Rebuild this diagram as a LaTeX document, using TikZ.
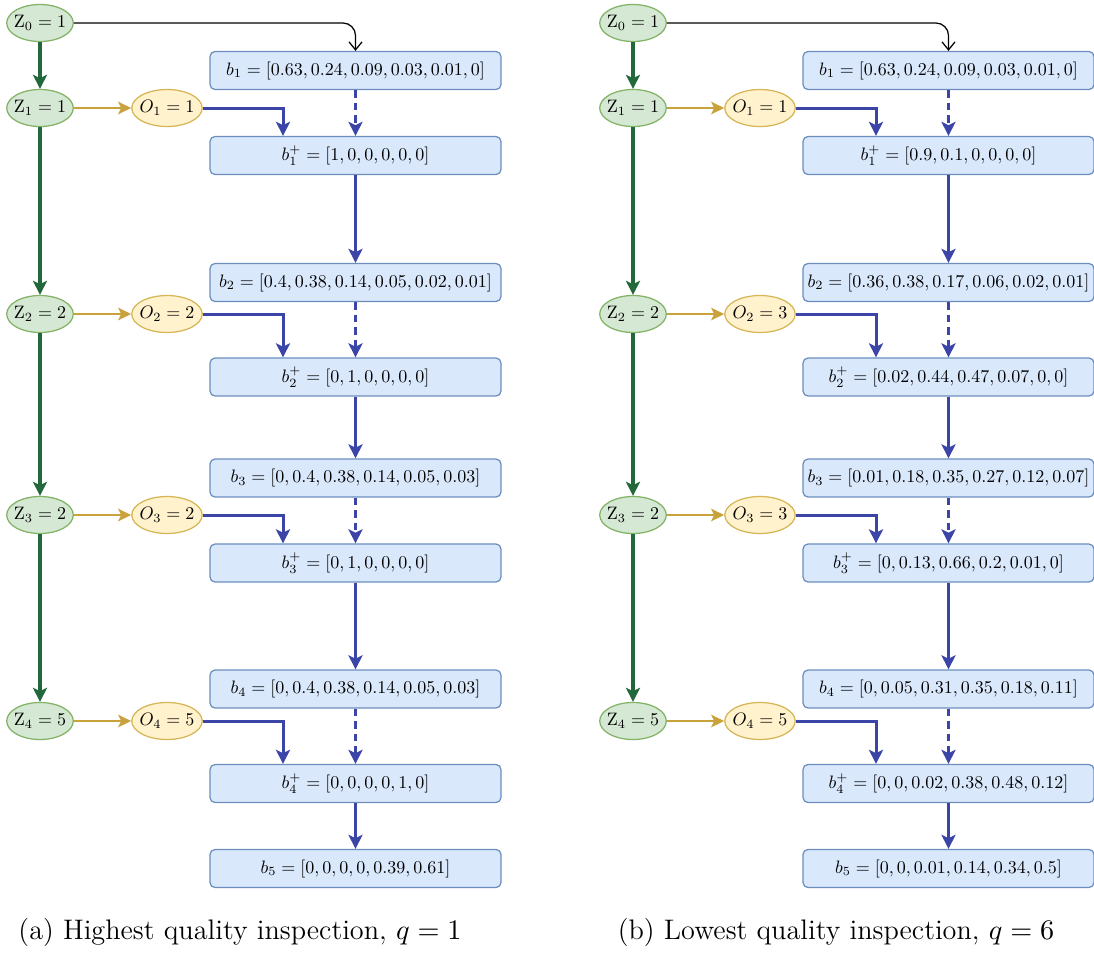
\documentclass[tikz,border=0pt]{standalone}
\usepackage{fix-cm}
\usepackage{graphicx}
\usetikzlibrary{arrows.meta, shapes.geometric}

\definecolor{zfill}{HTML}{D5E8D4}
\definecolor{zdraw}{HTML}{82B366}
\definecolor{ofill}{HTML}{FFF2CC}
\definecolor{odraw}{HTML}{D6B656}
\definecolor{bfill}{HTML}{DAE8FC}
\definecolor{bdraw}{HTML}{6C8EBF}
\definecolor{zline}{HTML}{23683A}
\definecolor{oline}{HTML}{C9A23C}
\definecolor{bline}{HTML}{3B45A8}

% scaled math for the labels inside the nodes
\newcommand{\smath}[1]{\scalebox{0.72}{$#1$}}

\tikzset{
  zstate/.style={ellipse, draw=zdraw, fill=zfill, line width=0.5pt,
    minimum width=26pt, minimum height=14.8pt, inner xsep=-1pt, inner ysep=0pt},
  obs/.style={zstate, draw=odraw, fill=ofill, minimum width=25.6pt},
  belief/.style={rectangle, rounded corners=2pt, draw=bdraw, fill=bfill, line width=0.5pt,
    minimum width=116.4pt, minimum height=15.2pt, inner sep=0pt},
  zarrow/.style={-{Stealth[length=5.6pt, width=5.6pt, inset=1.3pt]}, line width=1.4pt, draw=zline},
  oarrow/.style={-{Stealth[length=5.2pt, width=5pt, inset=1.2pt]}, line width=1.1pt, draw=oline},
  barrow/.style={-{Stealth[length=5.6pt, width=5.6pt, inset=1.3pt]}, line width=1.2pt, draw=bline},
  karrow/.style={-{Straight Barb[length=3.2pt, width=5.2pt]}, line width=0.5pt, draw=black},
  caption/.style={font=\fontsize{11.3}{13.5}\selectfont}
}

\begin{document}
\begin{tikzpicture}[x=0.4pt, y=-0.4pt]
    % 1. Frame of the picture
    \useasboundingbox (0,0) rectangle (1094,955);

    % 2. States Z and observations O, same chain in both panels
    \foreach \p/\dx/\oa/\ob/\oc/\od in {a/0/1/2/2/5, b/593/1/3/3/5} {
        \begin{scope}[shift={(\dx,0)}]
            \foreach \i/\y/\z in {0/23/1, 1/108/1, 2/314/2, 3/515/2, 4/721/5}
                \node[zstate] (\p Z\i) at (40,\y) {\smath{\mathrm{Z}_{\i} = \z}};
            \foreach \i/\y/\o in {1/108/\oa, 2/314/\ob, 3/515/\oc, 4/721/\od}
                \node[obs] (\p O\i) at (167,\y) {\smath{O_{\i} = \o}};
        \end{scope}
    }

    % 3. Beliefs, panel (a)
    \node[belief] (ab1)  at (355.5,70.5)  {\smath{b_1 = [0.63, 0.24, 0.09, 0.03, 0.01, 0]}};
    \node[belief] (ab1p) at (355.5,155.5) {\smath{b^+_1 = [1, 0, 0, 0, 0, 0]}};
    \node[belief] (ab2)  at (355.5,282.5) {\smath{b_2 = [0.4, 0.38, 0.14, 0.05, 0.02, 0.01]}};
    \node[belief] (ab2p) at (355.5,377)   {\smath{b^+_2 = [0, 1, 0, 0, 0, 0]}};
    \node[belief] (ab3)  at (355.5,478)   {\smath{b_3 = [0, 0.4, 0.38, 0.14, 0.05, 0.03]}};
    \node[belief] (ab3p) at (355.5,563)   {\smath{b^+_3 = [0, 1, 0, 0, 0, 0]}};
    \node[belief] (ab4)  at (355.5,689)   {\smath{b_4 = [0, 0.4, 0.38, 0.14, 0.05, 0.03]}};
    \node[belief] (ab4p) at (355.5,783.5) {\smath{b^+_4 = [0, 0, 0, 0, 1, 0]}};
    \node[belief] (ab5)  at (355.5,868.5) {\smath{b_5 = [0, 0, 0, 0, 0.39, 0.61]}};

    % 4. Beliefs, panel (b)
    \node[belief] (bb1)  at (948.5,70.5)  {\smath{b_1 = [0.63, 0.24, 0.09, 0.03, 0.01, 0]}};
    \node[belief] (bb1p) at (948.5,155.5) {\smath{b^+_1 = [0.9, 0.1, 0, 0, 0, 0]}};
    \node[belief] (bb2)  at (948.5,282.5) {\smath{b_2 = [0.36, 0.38, 0.17, 0.06, 0.02, 0.01]}};
    \node[belief] (bb2p) at (948.5,377)   {\smath{b^+_2 = [0.02, 0.44, 0.47, 0.07, 0, 0]}};
    \node[belief] (bb3)  at (948.5,478)   {\smath{b_3 = [0.01, 0.18, 0.35, 0.27, 0.12, 0.07]}};
    \node[belief] (bb3p) at (948.5,563)   {\smath{b^+_3 = [0, 0.13, 0.66, 0.2, 0.01, 0]}};
    \node[belief] (bb4)  at (948.5,689)   {\smath{b_4 = [0, 0.05, 0.31, 0.35, 0.18, 0.11]}};
    \node[belief] (bb4p) at (948.5,783.5) {\smath{b^+_4 = [0, 0, 0.02, 0.38, 0.48, 0.12]}};
    \node[belief] (bb5)  at (948.5,868.5) {\smath{b_5 = [0, 0, 0.01, 0.14, 0.34, 0.5]}};

    % 5. Connectors
    \foreach \p in {a, b} {
        \draw[karrow, rounded corners=5pt] (\p Z0.east) -| (\p b1.north);
        \foreach \i/\j in {0/1, 1/2, 2/3, 3/4}
            \draw[zarrow] (\p Z\i.south) -- (\p Z\j.north);
        \foreach \i in {1,...,4} {
            \draw[oarrow] (\p Z\i.east) -- (\p O\i.west);
            \draw[barrow] (\p O\i.east) -| ([xshift=-29pt]\p b\i p.north);
            \draw[barrow, dash pattern=on 3pt off 2pt] (\p b\i.south) -- (\p b\i p.north);
        }
        \foreach \i/\j in {1/2, 2/3, 3/4, 4/5}
            \draw[barrow] (\p b\i p.south) -- (\p b\j.north);
    }

    % 6. Captions
    \node[caption] (capa) at (240,932) {(a) Highest quality inspection, $q = 1$};
    \node[caption] (capb) at (836,932) {(b) Lowest quality inspection, $q = 6$};
\end{tikzpicture}
\end{document}
